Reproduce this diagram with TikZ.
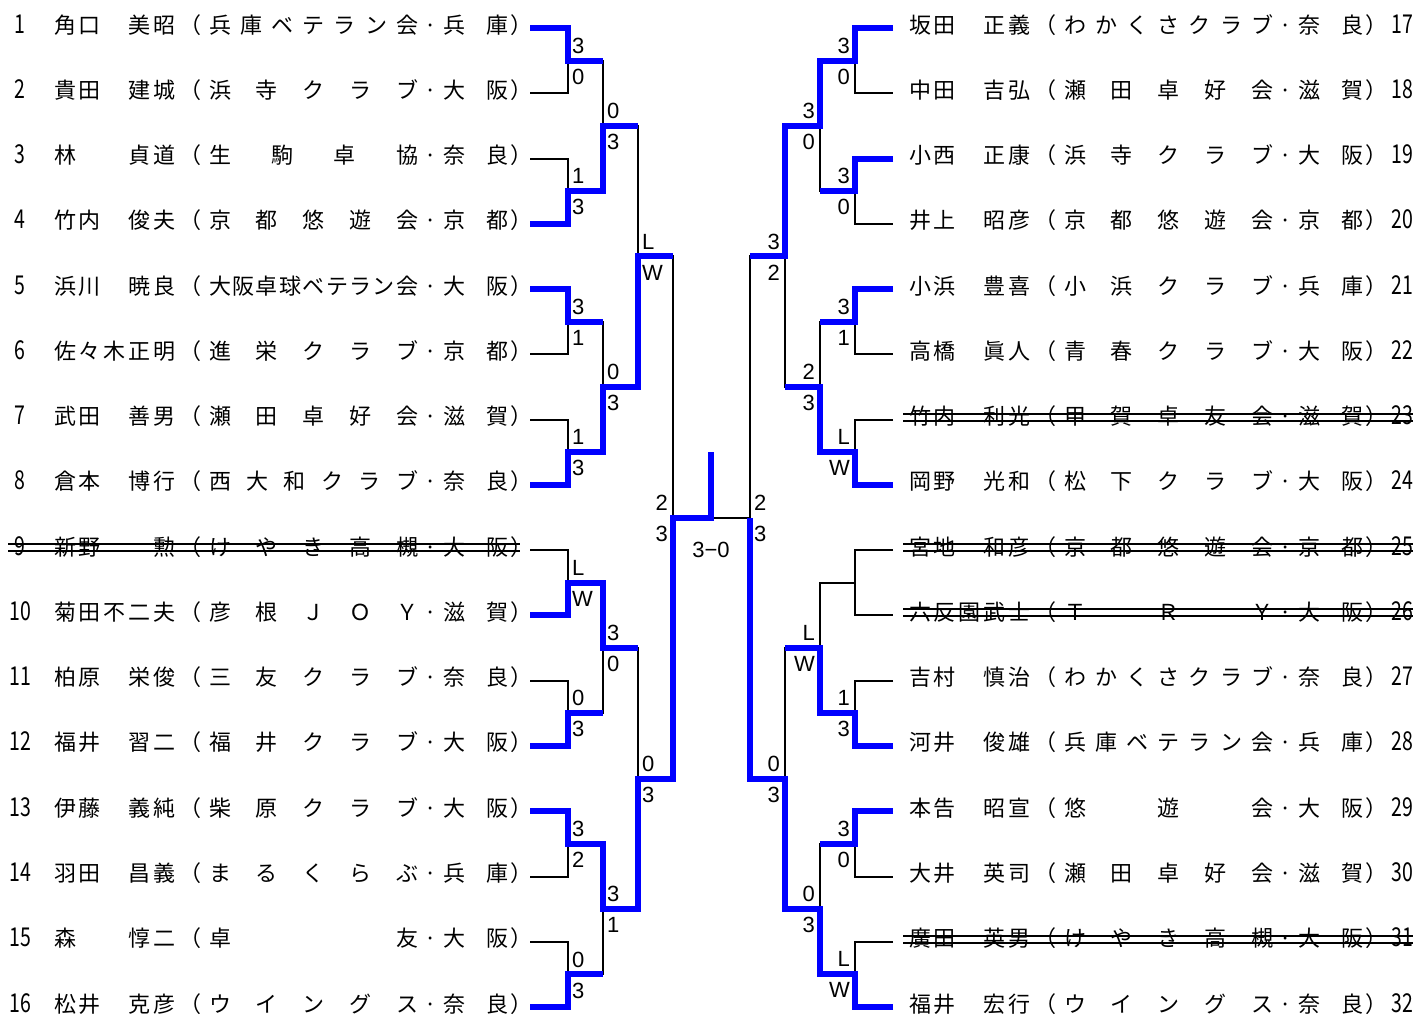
\documentclass[tikz,border=0pt]{standalone}
\usepackage{fontspec}
\setmainfont{Noto Sans CJK JP}
\newfontfamily\labf{Liberation Sans}
\usetikzlibrary{calc}
\makeatletter
\def\sp@read#1#2\sp@end{#1\if\relax\detokenize{#2}\relax\else\hfil\sp@read#2\sp@end\fi}
\newcommand\spread[2]{\makebox[#1][s]{\sp@read#2\sp@end}}
\makeatother
\newcommand\jpf{\fontsize{22pt}{22pt}\selectfont}
\newcommand\numf{\fontsize{26pt}{26pt}\selectfont}
\newcommand\Num[1]{\scalebox{0.75}[1]{\numf #1}}
\newcommand\Lrow[4]{\node[rowtext] (t#1) at ($(L#1)+(-530,5)$) {\makebox[40pt][c]{\Num{#1}}\hspace{14pt}\spread{121pt}{#2}\makebox[26pt][r]{（}\hspace{8pt}\spread{209pt}{#3}\makebox[25pt][c]{·}\spread{65pt}{#4}\makebox[22pt][l]{\hspace{2pt}）}};}
\newcommand\Rrow[4]{\node[rowtext] (t#1) at ($(R#1)+(16,5)$) {\spread{121pt}{#2}\makebox[26pt][r]{（}\hspace{8pt}\spread{209pt}{#3}\makebox[25pt][c]{·}\spread{65pt}{#4}\makebox[22pt][l]{\hspace{2pt}）}\makebox[28pt][r]{\Num{#1}}};}
\newcommand\strikeL[1]{\draw[strike] ($(L#1)+(-522,-6)$) -- ($(L#1)+(-10,-6)$); \draw[strike] ($(L#1)+(-522,1)$) -- ($(L#1)+(-10,1)$);}
\newcommand\strikeR[1]{\draw[strike] ($(R#1)+(10,-6)$) -- ($(R#1)+(520,-6)$); \draw[strike] ($(R#1)+(10,1)$) -- ($(R#1)+(520,1)$);}
\newcommand\scR[3]{\node[sc,anchor=west] (#1u) at ($(#1)+(4,-15)$) {#2}; \node[sc,anchor=west] (#1l) at ($(#1)+(4,16)$) {#3};}
\newcommand\scL[3]{\node[sc,anchor=east] (#1u) at ($(#1)+(-5,-15)$) {#2}; \node[sc,anchor=east] (#1l) at ($(#1)+(-5,16)$) {#3};}
\tikzset{
  rowtext/.style={anchor=base west, inner sep=0pt, font=\jpf},
  sc/.style={inner sep=0pt, font={\labf\fontsize{22pt}{22pt}\selectfont}},
  ln/.style={line width=2pt, black},
  win/.style={line width=6pt, blue, line join=miter},
  strike/.style={line width=2pt, black}
}
\begin{document}
\begin{tikzpicture}[x=1pt,y=-1pt]
\path[use as bounding box, fill=white] (0,0) rectangle (1417,1018);
\def\Lz{530}\def\Va{568}\def\Vb{603}\def\Vc{638}\def\Vd{673}\def\Cx{711}
\def\Wd{750}\def\Wc{785}\def\Wb{820}\def\Wa{855}\def\Rz{893}
\foreach \i in {1,...,16} {\coordinate (L\i) at (\Lz,{28+65.27*(\i-1)});}
\foreach \i in {17,...,32} {\coordinate (R\i) at (\Rz,{28+65.27*(\i-17)});}
\foreach \j in {1,...,8} {\coordinate (a\j) at (\Va,{28+65.27*(2*\j-1.5)}); \coordinate (b\j) at (\Wa,{28+65.27*(2*\j-1.5)});}
\foreach \j in {1,...,4} {\coordinate (c\j) at (\Vb,{28+65.27*(4*\j-2.5)}); \coordinate (d\j) at (\Wb,{28+65.27*(4*\j-2.5)});}
\foreach \j in {1,2} {\coordinate (e\j) at (\Vc,{28+65.27*(8*\j-4.5)}); \coordinate (f\j) at (\Wc,{28+65.27*(8*\j-4.5)});}
\coordinate (g) at (\Vd,{28+65.27*7.5});
\coordinate (h) at (\Wd,{28+65.27*7.5});
\coordinate (fin) at (\Cx,{28+65.27*7.5});
\coordinate (champ) at (\Cx,452);

% texts left
\Lrow{1}{角口　美昭}{兵庫ベテラン会}{兵庫}
\Lrow{2}{貴田　建城}{浜寺クラブ}{大阪}
\Lrow{3}{林　　貞道}{生駒卓協}{奈良}
\Lrow{4}{竹内　俊夫}{京都悠遊会}{京都}
\Lrow{5}{浜川　暁良}{大阪卓球ベテラン会}{大阪}
\Lrow{6}{佐々木正明}{進栄クラブ}{京都}
\Lrow{7}{武田　善男}{瀬田卓好会}{滋賀}
\Lrow{8}{倉本　博行}{西大和クラブ}{奈良}
\Lrow{9}{新野　　勲}{けやき高槻}{大阪}
\Lrow{10}{菊田不二夫}{彦根ＪＯＹ}{滋賀}
\Lrow{11}{柏原　栄俊}{三友クラブ}{奈良}
\Lrow{12}{福井　習二}{福井クラブ}{大阪}
\Lrow{13}{伊藤　義純}{柴原クラブ}{大阪}
\Lrow{14}{羽田　昌義}{まるくらぶ}{兵庫}
\Lrow{15}{森　　惇二}{卓友}{大阪}
\Lrow{16}{松井　克彦}{ウイングス}{奈良}
% texts right
\Rrow{17}{坂田　正義}{わかくさクラブ}{奈良}
\Rrow{18}{中田　吉弘}{瀬田卓好会}{滋賀}
\Rrow{19}{小西　正康}{浜寺クラブ}{大阪}
\Rrow{20}{井上　昭彦}{京都悠遊会}{京都}
\Rrow{21}{小浜　豊喜}{小浜クラブ}{兵庫}
\Rrow{22}{高橋　眞人}{青春クラブ}{大阪}
\Rrow{23}{竹内　利光}{甲賀卓友会}{滋賀}
\Rrow{24}{岡野　光和}{松下クラブ}{大阪}
\Rrow{25}{宮地　和彦}{京都悠遊会}{京都}
\Rrow{26}{六反園武士}{ＴＲＹ}{大阪}
\Rrow{27}{吉村　慎治}{わかくさクラブ}{奈良}
\Rrow{28}{河井　俊雄}{兵庫ベテラン会}{兵庫}
\Rrow{29}{本告　昭宣}{悠遊会}{大阪}
\Rrow{30}{大井　英司}{瀬田卓好会}{滋賀}
\Rrow{31}{廣田　英男}{けやき高槻}{大阪}
\Rrow{32}{福井　宏行}{ウイングス}{奈良}
% strikes
\strikeL{9}
\strikeR{23}\strikeR{25}\strikeR{26}\strikeR{31}

% black bracket
\foreach \j [evaluate=\j as \u using int(2*\j-1), evaluate=\j as \v using int(2*\j)] in {1,...,8} {
  \draw[ln] (L\u) -| (a\j) |- (L\v);
}
\foreach \j [evaluate=\j as \u using int(2*\j+15), evaluate=\j as \v using int(2*\j+16)] in {1,...,8} {
  \draw[ln] (R\u) -| (b\j) |- (R\v);
}
\foreach \j [evaluate=\j as \u using int(2*\j-1), evaluate=\j as \v using int(2*\j)] in {1,...,4} {
  \draw[ln] (a\u) -| (c\j) |- (a\v);
  \draw[ln] (b\u) -| (d\j) |- (b\v);
}
\foreach \j [evaluate=\j as \u using int(2*\j-1), evaluate=\j as \v using int(2*\j)] in {1,2} {
  \draw[ln] (c\u) -| (e\j) |- (c\v);
  \draw[ln] (d\u) -| (f\j) |- (d\v);
}
\draw[ln] (e1) -| (g) |- (e2);
\draw[ln] (f1) -| (h) |- (f2);
\draw[ln] (g) -- (h);

% winners (blue)
\draw[win] (L1) -| (a1) -- (a1 -| c1);
\draw[win] (L4) -| (a2) -| (c1) -- (c1 -| e1);
\draw[win] (L5) -| (a3) -- (a3 -| c2);
\draw[win] (L8) -| (a4) -| (c2) -| (e1) -- (e1 -| g);
\draw[win] (L10) -| (a5) -| (c3) -- (c3 -| e2);
\draw[win] (L12) -| (a6) -- (a6 -| c3);
\draw[win] (L16) -| (a8) -- (a8 -| c4);
\draw[win] (L13) -| (a7) -| (c4) -| (e2) -| (g) -- (fin) -- (champ);
\draw[win] (R17) -| (b1) -| (d1) -| (f1) -- (f1 -| h);
\draw[win] (R19) -| (b2) -- (b2 -| d1);
\draw[win] (R21) -| (b3) -- (b3 -| d2);
\draw[win] (R24) -| (b4) -| (d2) -- (d2 -| f1);
\draw[win] (R28) -| (b6) -| (d3) -- (d3 -| f2);
\draw[win] (R29) -| (b7) -- (b7 -| d4);
\draw[win] (R32) -| (b8) -| (d4) -| (f2) -| (h);

% scores
\scR{a1}{3}{0}\scR{a2}{1}{3}\scR{a3}{3}{1}\scR{a4}{1}{3}
\scR{a5}{L}{W}\scR{a6}{0}{3}\scR{a7}{3}{2}\scR{a8}{0}{3}
\scR{c1}{0}{3}\scR{c2}{0}{3}\scR{c3}{3}{0}\scR{c4}{3}{1}
\scR{e1}{L}{W}\scR{e2}{0}{3}
\scL{g}{2}{3}
\scL{b1}{3}{0}\scL{b2}{3}{0}\scL{b3}{3}{1}\scL{b4}{L}{W}
\scL{b6}{1}{3}\scL{b7}{3}{0}\scL{b8}{L}{W}
\scL{d1}{3}{0}\scL{d2}{2}{3}\scL{d3}{L}{W}\scL{d4}{0}{3}
\scL{f1}{3}{2}\scL{f2}{0}{3}
\scR{h}{2}{3}
\node[sc] (res) at ($(fin)+(0,32)$) {3−0};
\end{tikzpicture}
\end{document}
